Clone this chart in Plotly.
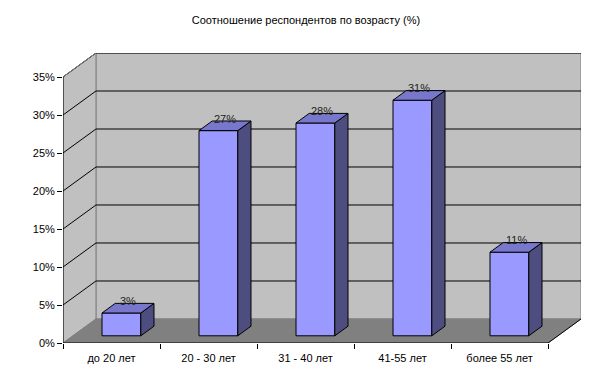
import plotly.graph_objects as go

title = "Соотношение респондентов по возрасту (%)"
categories = ["до 20 лет", "20 - 30 лет", "31 - 40 лет", "41-55 лет", "более 55 лет"]
values = [3, 27, 28, 31, 11]
y_ticks = [0, 5, 10, 15, 20, 25, 30, 35]
y_tick_text = ["0%", "5%", "10%", "15%", "20%", "25%", "30%", "35%"]

# oblique projection of depth (in data units)
DX = 0.34
DY = 3.16
YMAX = 35
N = len(categories)

def P(x, y, t):
    return (x + t * DX, y + t * DY)

fig = go.Figure()

def poly(pts, fill, line_color, width=1, close=True):
    xs = [p[0] for p in pts]
    ys = [p[1] for p in pts]
    if close:
        xs.append(xs[0]); ys.append(ys[0])
    fig.add_trace(go.Scatter(x=xs, y=ys, mode="lines", fill="toself" if fill else None,
                             fillcolor=fill, line=dict(color=line_color, width=width),
                             hoverinfo="skip", showlegend=False))

def line(pts, color, width=1):
    fig.add_trace(go.Scatter(x=[p[0] for p in pts], y=[p[1] for p in pts], mode="lines",
                             line=dict(color=color, width=width), hoverinfo="skip", showlegend=False))

# back wall
poly([P(0, 0, 1), P(N, 0, 1), P(N, YMAX, 1), P(0, YMAX, 1)], "#C0C0C0", "#808080")
# left wall
poly([P(0, 0, 0), P(0, 0, 1), P(0, YMAX, 1), P(0, YMAX, 0)], "#C0C0C0", "#808080")
# floor
poly([P(0, 0, 0), P(N, 0, 0), P(N, 0, 1), P(0, 0, 1)], "#808080", "#808080")
line([P(N, 0, 0), P(N, 0, 1)], "#000000")

# gridlines
for v in y_ticks[1:]:
    line([P(0, v, 0), P(0, v, 1), P(N, v, 1)], "#000000")
line([P(0, YMAX, 0), P(0, YMAX, 1)], "#808080")

# bars
W0, W1 = 0.3, 0.7
D0, D1 = 0.3, 0.7
for i, v in enumerate(values):
    x0, x1 = i + W0, i + W1
    poly([P(x0, 0, D0), P(x1, 0, D0), P(x1, v, D0), P(x0, v, D0)], "#9999FF", "#000000")
    poly([P(x1, 0, D0), P(x1, 0, D1), P(x1, v, D1), P(x1, v, D0)], "#4D4D80", "#000000")
    poly([P(x0, v, D0), P(x1, v, D0), P(x1, v, D1), P(x0, v, D1)], "#7777CC", "#000000")
    cx, cy = P(i + 0.5, v, 0.5)
    fig.add_annotation(x=cx, y=cy, text=f"{v}%", showarrow=False, yanchor="middle", yshift=7,
                       font=dict(family="Liberation Sans, Arial", size=11, color="#222222"))

# axis lines
line([P(0, 0, 0), P(0, YMAX, 0)], "#000000")
line([P(0, 0, 0), P(N, 0, 0)], "#000000")

fig.update_layout(
    width=605, height=376, autosize=False,
    margin=dict(l=55, r=32, t=45, b=41),
    paper_bgcolor="white", plot_bgcolor="white",
    title=dict(text=title, x=298 / 605, xanchor="center", y=1 - 12 / 376, yanchor="middle",
               font=dict(family="Liberation Sans, Arial", size=11, color="#000000")),
    font=dict(family="Liberation Sans, Arial", size=11, color="#000000"),
    xaxis=dict(range=[0, N + DX], showgrid=False, zeroline=False, showline=False,
               tickvals=[i + 0.5 for i in range(N)], ticktext=categories,
               ticks="outside", ticklen=5, tickcolor="rgba(0,0,0,0)",
               minor=dict(tickmode="array", tickvals=list(range(N + 1)), ticks="outside",
                          ticklen=5, tickcolor="#000000", showgrid=False),
               fixedrange=True),
    yaxis=dict(range=[0, YMAX + DY], showgrid=False, zeroline=False, showline=False,
               tickvals=y_ticks, ticktext=y_tick_text, ticks="outside", ticklen=5,
               tickcolor="#000000", fixedrange=True),
)

fig.write_html("out.html")
